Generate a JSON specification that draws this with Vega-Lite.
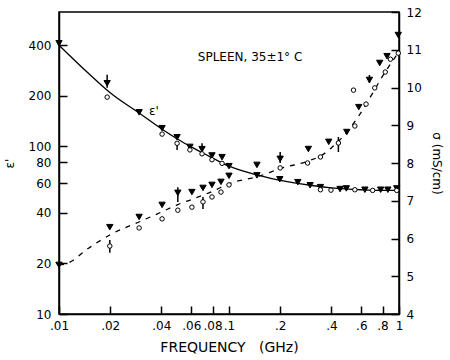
{
  "$schema": "https://vega.github.io/schema/vega-lite/v6.json",
  "width": 340,
  "height": 302,
  "autosize": {"type": "none"},
  "padding": {"left": 59, "top": 12, "right": 51, "bottom": 46},
  "background": "white",
  "config": {
    "view": {"stroke": "black", "strokeWidth": 1.5},
    "font": "DejaVu Sans",
    "axis": {
      "grid": false,
      "domainColor": "black",
      "domainWidth": 1.5,
      "tickColor": "black",
      "tickWidth": 1.5,
      "tickSize": -8,
      "labelColor": "black",
      "labelFont": "DejaVu Sans",
      "labelFontSize": 12,
      "titleColor": "black",
      "titleFont": "DejaVu Sans",
      "titleFontSize": 12,
      "titleFontWeight": "normal",
      "labelFlush": false,
      "labelOverlap": false
    }
  },
  "datasets": {
    "epsLine": [
      {"f": 0.01, "eps": 400}, {"f": 0.015, "eps": 270}, {"f": 0.02, "eps": 208}, {"f": 0.03, "eps": 156},
      {"f": 0.04, "eps": 127}, {"f": 0.05, "eps": 110}, {"f": 0.06, "eps": 99}, {"f": 0.07, "eps": 91},
      {"f": 0.08, "eps": 85}, {"f": 0.1, "eps": 76}, {"f": 0.15, "eps": 67}, {"f": 0.2, "eps": 62.5},
      {"f": 0.3, "eps": 58.5}, {"f": 0.4, "eps": 56.5}, {"f": 0.6, "eps": 55}, {"f": 0.8, "eps": 54.5},
      {"f": 1.0, "eps": 54.5}
    ],
    "epsPts": [
      {"f": 0.01, "eps": 410, "kind": "T"}, {"f": 0.0192, "eps": 237, "kind": "T"},
      {"f": 0.0296, "eps": 159, "kind": "T"}, {"f": 0.0404, "eps": 128, "kind": "T"},
      {"f": 0.0495, "eps": 113, "kind": "T"}, {"f": 0.0589, "eps": 99, "kind": "T"},
      {"f": 0.0694, "eps": 96, "kind": "T"}, {"f": 0.0794, "eps": 88, "kind": "T"},
      {"f": 0.091, "eps": 86, "kind": "T"}, {"f": 0.1, "eps": 76, "kind": "T"},
      {"f": 0.146, "eps": 67, "kind": "T"}, {"f": 0.199, "eps": 63.5, "kind": "T"},
      {"f": 0.254, "eps": 61, "kind": "T"}, {"f": 0.3, "eps": 58.5, "kind": "T"},
      {"f": 0.345, "eps": 57, "kind": "T"}, {"f": 0.45, "eps": 55.5, "kind": "T"},
      {"f": 0.49, "eps": 56, "kind": "T"}, {"f": 0.63, "eps": 55, "kind": "T"},
      {"f": 0.78, "eps": 55, "kind": "T"}, {"f": 0.86, "eps": 55, "kind": "T"},
      {"f": 0.97, "eps": 56, "kind": "T"},
      {"f": 0.0192, "eps": 196, "kind": "C"}, {"f": 0.0404, "eps": 118, "kind": "C"},
      {"f": 0.0495, "eps": 104, "kind": "C"}, {"f": 0.0589, "eps": 95, "kind": "C"},
      {"f": 0.0694, "eps": 90, "kind": "C"}, {"f": 0.0794, "eps": 83, "kind": "C"},
      {"f": 0.091, "eps": 79, "kind": "C"}, {"f": 0.345, "eps": 55, "kind": "C"},
      {"f": 0.398, "eps": 54.7, "kind": "C"}, {"f": 0.55, "eps": 55, "kind": "C"},
      {"f": 0.7, "eps": 54.5, "kind": "C"}, {"f": 0.97, "eps": 54.5, "kind": "C"}
    ],
    "epsErr": [
      {"f": 0.0192, "eps": 223, "eps2": 266},
      {"f": 0.0495, "eps": 95, "eps2": 104},
      {"f": 0.0694, "eps": 88, "eps2": 104}
    ],
    "notes": [
      {"f": 0.133, "eps": 339, "label": "SPLEEN, 35±1° C"},
      {"f": 0.0362, "eps": 162, "label": "ε'"}
    ],
    "sigLine": [
      {"f": 0.01, "sig": 5.3}, {"f": 0.011, "sig": 5.33}, {"f": 0.015, "sig": 5.75}, {"f": 0.02, "sig": 6.1},
      {"f": 0.03, "sig": 6.45}, {"f": 0.04, "sig": 6.7}, {"f": 0.05, "sig": 6.9}, {"f": 0.06, "sig": 7.03},
      {"f": 0.08, "sig": 7.25}, {"f": 0.1, "sig": 7.45}, {"f": 0.15, "sig": 7.65}, {"f": 0.2, "sig": 7.85},
      {"f": 0.3, "sig": 8.07}, {"f": 0.35, "sig": 8.2}, {"f": 0.4, "sig": 8.4}, {"f": 0.5, "sig": 8.85},
      {"f": 0.6, "sig": 9.35}, {"f": 0.7, "sig": 9.85}, {"f": 0.8, "sig": 10.3}, {"f": 0.9, "sig": 10.65},
      {"f": 1.0, "sig": 10.95}
    ],
    "sigPts": [
      {"f": 0.01, "sig": 5.3, "kind": "T"}, {"f": 0.0199, "sig": 6.3, "kind": "T"},
      {"f": 0.0296, "sig": 6.57, "kind": "T"}, {"f": 0.0404, "sig": 6.89, "kind": "T"},
      {"f": 0.05, "sig": 7.21, "kind": "T"}, {"f": 0.0605, "sig": 7.23, "kind": "T"},
      {"f": 0.0703, "sig": 7.34, "kind": "T"}, {"f": 0.0794, "sig": 7.42, "kind": "T"},
      {"f": 0.0897, "sig": 7.5, "kind": "T"}, {"f": 0.1, "sig": 7.66, "kind": "T"},
      {"f": 0.146, "sig": 7.95, "kind": "T"}, {"f": 0.2, "sig": 8.11, "kind": "T"},
      {"f": 0.293, "sig": 8.37, "kind": "T"}, {"f": 0.386, "sig": 8.56, "kind": "T"},
      {"f": 0.493, "sig": 8.82, "kind": "T"}, {"f": 0.58, "sig": 9.48, "kind": "T"},
      {"f": 0.67, "sig": 10.2, "kind": "T"}, {"f": 0.77, "sig": 10.65, "kind": "T"},
      {"f": 0.85, "sig": 10.83, "kind": "T"}, {"f": 0.99, "sig": 11.39, "kind": "T"},
      {"f": 0.0199, "sig": 5.8, "kind": "C"}, {"f": 0.0296, "sig": 6.28, "kind": "C"},
      {"f": 0.0404, "sig": 6.52, "kind": "C"}, {"f": 0.05, "sig": 6.75, "kind": "C"},
      {"f": 0.0605, "sig": 6.83, "kind": "C"}, {"f": 0.0703, "sig": 6.97, "kind": "C"},
      {"f": 0.0794, "sig": 7.1, "kind": "C"}, {"f": 0.0897, "sig": 7.23, "kind": "C"},
      {"f": 0.1, "sig": 7.42, "kind": "C"}, {"f": 0.2, "sig": 7.87, "kind": "C"},
      {"f": 0.29, "sig": 8.0, "kind": "C"}, {"f": 0.345, "sig": 8.16, "kind": "C"},
      {"f": 0.44, "sig": 8.53, "kind": "C"}, {"f": 0.54, "sig": 9.93, "kind": "C"},
      {"f": 0.55, "sig": 8.98, "kind": "C"}, {"f": 0.64, "sig": 9.56, "kind": "C"},
      {"f": 0.72, "sig": 9.99, "kind": "C"}, {"f": 0.83, "sig": 10.41, "kind": "C"},
      {"f": 0.89, "sig": 10.75, "kind": "C"}, {"f": 0.99, "sig": 10.91, "kind": "C"}
    ],
    "sigErr": [
      {"f": 0.0199, "sig": 5.62, "sig2": 5.96},
      {"f": 0.05, "sig": 6.97, "sig2": 7.36},
      {"f": 0.0703, "sig": 6.78, "sig2": 7.1},
      {"f": 0.2, "sig": 8.0, "sig2": 8.29},
      {"f": 0.44, "sig": 8.29, "sig2": 8.69},
      {"f": 0.67, "sig": 10.12, "sig2": 10.33}
    ]
  },
  "encoding": {
    "x": {
      "field": "f",
      "type": "quantitative",
      "scale": {"type": "log", "domain": [0.01, 1], "nice": false},
      "axis": {
        "orient": "bottom",
        "values": [0.01, 0.02, 0.04, 0.06, 0.08, 0.1, 0.2, 0.4, 0.6, 0.8, 1],
        "labelExpr": "replace(format(datum.value, '~g'), '0.', '.')",
        "labelPadding": 14,
        "title": "FREQUENCY\u00a0\u00a0\u00a0(GHz)",
        "titleFontSize": 14,
        "titlePadding": 9
      }
    }
  },
  "layer": [
    {
      "encoding": {
        "y": {
          "field": "eps",
          "type": "quantitative",
          "scale": {"type": "log", "domain": [10, 630], "nice": false},
          "axis": {
            "orient": "left",
            "values": [10, 20, 40, 60, 80, 100, 200, 400],
            "format": "~g",
            "labelPadding": 16,
            "title": "ε'",
            "titlePadding": 12
          }
        }
      },
      "layer": [
        {
          "data": {"name": "epsLine"},
          "mark": {"type": "line", "color": "black", "strokeWidth": 1.3, "interpolate": "monotone"},
          "encoding": {}
        },
        {
          "data": {"name": "epsErr"},
          "mark": {"type": "rule", "color": "black", "strokeWidth": 1.5},
          "encoding": {"y2": {"field": "eps2"}}
        },
        {
          "data": {"name": "epsPts"},
          "mark": {"type": "point", "filled": true, "stroke": "black", "strokeWidth": 1, "opacity": 1},
          "encoding": {
            "shape": {"field": "kind", "type": "nominal", "scale": {"domain": ["T", "C"], "range": ["triangle-down", "circle"]}, "legend": null},
            "fill": {"field": "kind", "type": "nominal", "scale": {"domain": ["T", "C"], "range": ["black", "white"]}, "legend": null},
            "size": {"field": "kind", "type": "nominal", "scale": {"domain": ["T", "C"], "range": [40, 20]}, "legend": null}
          }
        },
        {
          "data": {"name": "notes"},
          "mark": {"type": "text", "font": "DejaVu Sans", "fontSize": 12, "color": "black"},
          "encoding": {"text": {"field": "label"}}
        }
      ]
    },
    {
      "encoding": {
        "y": {
          "field": "sig",
          "type": "quantitative",
          "scale": {"domain": [4, 12], "nice": false},
          "axis": {
            "orient": "right",
            "values": [4, 5, 6, 7, 8, 9, 10, 11, 12],
            "labelPadding": 15,
            "title": "σ (mS/cm)",
            "titlePadding": 8
          }
        }
      },
      "layer": [
        {
          "data": {"name": "sigLine"},
          "mark": {"type": "line", "color": "black", "strokeWidth": 1.3, "strokeDash": [5, 6], "interpolate": "monotone"},
          "encoding": {}
        },
        {
          "data": {"name": "sigErr"},
          "mark": {"type": "rule", "color": "black", "strokeWidth": 1.5},
          "encoding": {"y2": {"field": "sig2"}}
        },
        {
          "data": {"name": "sigPts"},
          "mark": {"type": "point", "filled": true, "stroke": "black", "strokeWidth": 1, "opacity": 1},
          "encoding": {
            "shape": {"field": "kind", "type": "nominal", "scale": {"domain": ["T", "C"], "range": ["triangle-down", "circle"]}, "legend": null},
            "fill": {"field": "kind", "type": "nominal", "scale": {"domain": ["T", "C"], "range": ["black", "white"]}, "legend": null},
            "size": {"field": "kind", "type": "nominal", "scale": {"domain": ["T", "C"], "range": [40, 20]}, "legend": null}
          }
        }
      ]
    }
  ],
  "resolve": {"scale": {"y": "independent"}}
}
